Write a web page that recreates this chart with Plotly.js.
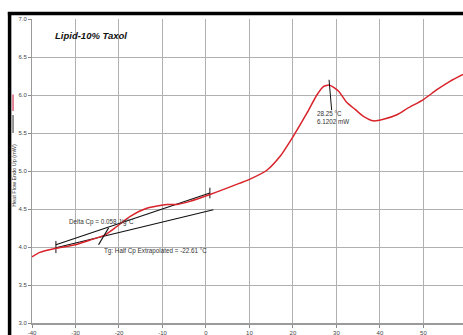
<!DOCTYPE html>
<html>
<head>
<meta charset="utf-8">
<script src="https://cdn.plot.ly/plotly-3.0.1.min.js"></script>
<style>
html,body{margin:0;padding:0;background:#fff;}
#chart{width:463px;height:335px;}
</style>
</head>
<body>
<div id="chart"></div>
<script>
// Heat flow curve (temperature °C, heat flow mW)
const temperature = [-40, -38.2, -34.7, -30, -26.7, -23.2, -20.5, -17.5, -13.6, -9.0, -6.7, -3.7, 0.9, 7.8, 10, 14, 17.0, 20.1, 23.2, 25.5, 27.0, 28.4, 30.5, 32.4, 34.3, 36.2, 38.5, 40.8, 43.9, 46.5, 50.0, 53.1, 56.1, 59.1];
const heatFlow    = [3.87, 3.93, 3.98, 4.03, 4.09, 4.16, 4.27, 4.40, 4.51, 4.56, 4.56, 4.60, 4.69, 4.84, 4.89, 5.01, 5.19, 5.46, 5.76, 6.00, 6.11, 6.13, 6.05, 5.90, 5.81, 5.72, 5.66, 5.68, 5.74, 5.83, 5.94, 6.07, 6.18, 6.27];

// Tangent baselines
const upperBaseX = [-34.5, 0.9];
const upperBaseY = [4.03, 4.71];
const lowerBaseX = [-34.5, 1.7];
const lowerBaseY = [3.99, 4.49];
// End ticks of baselines
const leftTickX = [-34.5, -34.5];
const leftTickY = [3.92, 4.08];
const rightTickX = [0.9, 0.9];
const rightTickY = [4.64, 4.78];
// Tg pointer
const tgPointerX = [-24.7, -22.4];
const tgPointerY = [4.03, 4.25];
// Peak marker
const peakMarkX = [28.3, 28.9];
const peakMarkY = [6.20, 5.80];

const xTicks = [-40, -30, -20, -10, 0, 10, 20, 30, 40, 50];
const yTicks = [3.0, 3.5, 4.0, 4.5, 5.0, 5.5, 6.0, 6.5, 7.0];

const blk = {color: '#111', width: 1.2};
const traces = [
  {x: upperBaseX, y: upperBaseY, mode: 'lines', line: blk},
  {x: lowerBaseX, y: lowerBaseY, mode: 'lines', line: blk},
  {x: leftTickX, y: leftTickY, mode: 'lines', line: {color: '#111', width: 1}},
  {x: rightTickX, y: rightTickY, mode: 'lines', line: {color: '#111', width: 1}},
  {x: temperature, y: heatFlow, mode: 'lines', line: {color: '#d9232a', width: 1.5, shape: 'spline', smoothing: 0.6}},
  {x: tgPointerX, y: tgPointerY, mode: 'lines', line: blk},
  {x: peakMarkX, y: peakMarkY, mode: 'lines', line: {color: '#111', width: 1}}
];

const tickFont = {family: 'Liberation Sans, Arial, sans-serif', size: 6, color: '#444'};
const annFont = {family: 'Liberation Sans, Arial, sans-serif', size: 6.3, color: '#333'};

const layout = {
  width: 463, height: 335,
  margin: {l: 32, r: 0, t: 19, b: 12},
  paper_bgcolor: '#fff', plot_bgcolor: '#fff',
  showlegend: false,
  xaxis: {
    range: [-40, 59.1], tickvals: xTicks, ticktext: xTicks.map(String),
    showgrid: true, gridcolor: '#b0b0b0', gridwidth: 1,
    showline: true, linecolor: '#9a9a9a', linewidth: 2,
    ticks: 'outside', ticklen: 3, tickcolor: '#888',
    tickfont: tickFont, zeroline: false, fixedrange: true
  },
  yaxis: {
    range: [3.0, 7.0], tickvals: yTicks, ticktext: yTicks.map(v => v.toFixed(1)),
    showgrid: true, gridcolor: '#b0b0b0', gridwidth: 1,
    showline: true, linecolor: '#9a9a9a', linewidth: 1,
    ticks: 'outside', ticklen: 3, tickcolor: '#888',
    tickfont: tickFont, zeroline: false, fixedrange: true
  },
  shapes: [
    {type: 'line', xref: 'paper', yref: 'paper', x0: -0.052, x1: -0.052, y0: -0.1, y1: 1.023, line: {color: '#000', width: 3.5}},
    {type: 'line', xref: 'paper', yref: 'paper', x0: -0.056, x1: 1.01, y0: 1.018, y1: 1.018, line: {color: '#000', width: 3.5}},
    {type: 'line', xref: 'paper', yref: 'paper', x0: -0.044, x1: -0.044, y0: 0.752, y1: 0.697, line: {color: '#e0607a', width: 1.5}},
    {type: 'line', xref: 'paper', yref: 'paper', x0: -0.044, x1: -0.044, y0: 0.684, y1: 0.625, line: {color: '#777', width: 1.5}}
  ],
  annotations: [
    {xref: 'x', yref: 'y', x: -35.2, y: 6.78, xanchor: 'left', yanchor: 'middle', showarrow: false,
     text: '<b><i>Lipid-10% Taxol</i></b>', font: {family: 'Liberation Sans, Arial, sans-serif', size: 9.5, color: '#111'}},
    {xref: 'x', yref: 'y', x: -31.95, y: 4.33, xanchor: 'left', yanchor: 'middle', showarrow: false,
     text: 'Delta Cp = 0.058 J/g°C', font: annFont},
    {xref: 'x', yref: 'y', x: -23.9, y: 3.95, xanchor: 'left', yanchor: 'middle', showarrow: false,
     text: 'Tg: Half Cp Extrapolated = -22.61 °C', font: annFont},
    {xref: 'x', yref: 'y', x: 25.1, y: 5.83, xanchor: 'left', yanchor: 'top', align: 'left', showarrow: false,
     text: '28.25 °C<br>6.1202 mW', font: annFont},
    {xref: 'paper', yref: 'paper', x: -0.042, y: 0.487, xanchor: 'center', yanchor: 'middle', showarrow: false, textangle: -90,
     text: 'Heat Flow Endo Up (mW)', font: {family: 'Liberation Sans, Arial, sans-serif', size: 5.5, color: '#333'}},
    {xref: 'paper', yref: 'paper', x: 0.506, y: -0.048, xanchor: 'center', yanchor: 'middle', showarrow: false,
     text: 'Temperature (°C)', font: {family: 'Liberation Sans, Arial, sans-serif', size: 6, color: '#aaa'}}
  ]
};

Plotly.newPlot('chart', traces, layout, {displayModeBar: false, staticPlot: true});
</script>
</body>
</html>
